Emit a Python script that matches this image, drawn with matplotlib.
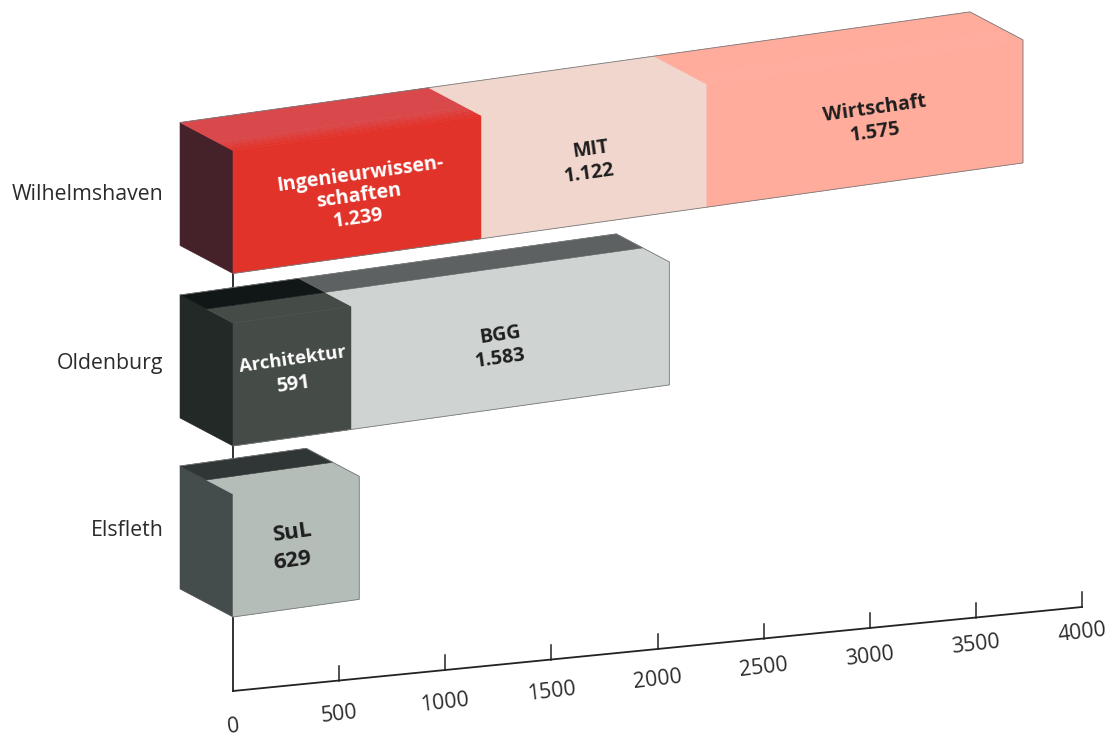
#!/usr/bin/python3
import numpy as np
from matplotlib import pyplot as plt
from matplotlib.patches import Polygon
import matplotlib.colors as colors

plt.rcParams['font.family'] = ['Open Sans', 'DejaVu Sans']

campus_names = ['Wilhelmshaven', 'Oldenburg', 'Elsfleth']
wilhelmshaven_values = [1239, 1122, 1575]
oldenburg_values = [591, 1583]
elsfleth_values = [629]
axis_ticks = [0, 500, 1000, 1500, 2000, 2500, 3000, 3500, 4000]

# oblique projection of the bars, in pixels
x0 = 233
bar_scale = 0.2007
bar_slope = 0.14
bar_height = 123
depth_x = -53
depth_y = -28


def project(value, height, depth, base):
    x = x0 + bar_scale*value + depth*depth_x
    y = base - bar_slope*bar_scale*value - height + depth*depth_y
    return (x, y)


def face(ax, points, color, z=3):
    ax.add_patch(Polygon(points, closed=True, facecolor=color, edgecolor=color, lw=0.4, zorder=z))


def draw_bar(ax, values, base, side, fronts, tops, top_bands):
    edges = np.concatenate(([0], np.cumsum(values)))
    h = bar_height
    face(ax, [project(0, 0, 0, base), project(0, h, 0, base), project(0, h, 1, base), project(0, 0, 1, base)], side)
    for i in range(len(values)):
        a, b = edges[i], edges[i+1]
        # top face: (front depth, back depth) bands
        for (d1, d2), col in zip(top_bands, tops[i]):
            face(ax, [project(a, h, d1, base), project(b, h, d1, base),
                      project(b, h, d2, base), project(a, h, d2, base)], col)
        face(ax, [project(a, 0, 0, base), project(b, 0, 0, base),
                  project(b, h, 0, base), project(a, h, 0, base)], fronts[i], z=3)
    # thin outline round the whole block
    end = edges[-1]
    outline = [project(0, h, 1, base), project(end, h, 1, base), project(end, h, 0, base),
               project(end, 0, 0, base), project(0, 0, 0, base)]
    ax.plot(*zip(*outline), color='#77797a', lw=0.6, zorder=5, solid_joinstyle='miter')


def label(ax, x, y, text, color, size=14.2):
    ax.text(x, y + 2, text, color=color, fontsize=size, fontweight='bold', rotation=8,
            ha='center', va='center', rotation_mode='anchor', zorder=6)


fig = plt.figure(figsize=(11.13, 7.38), dpi=100)
ax = fig.add_axes([0, 0, 1, 1])
ax.set_xlim(0, 1113)
ax.set_ylim(738, 0)
ax.axis('off')

# value axis
axis_scale = 0.21225
axis_rise = 0.021
axis_col = '#222222'
ticks = np.array(axis_ticks)
tick_x = x0 + axis_scale*ticks
tick_y = 691 - axis_rise*ticks
ax.plot([x0, x0], [691, 270], color=axis_col, lw=1.3, zorder=1)
ax.plot(tick_x, tick_y, color=axis_col, lw=1.3, zorder=1)
for t, tx, ty in zip(ticks, tick_x, tick_y):
    if t > 0:
        ax.plot([tx, tx], [ty, ty-15], color=axis_col, lw=1.1, zorder=1)
    ax.text(tx, ty + 35.5 - 9.5*t/4000, str(t), fontsize=15.3, color='#2b2b2b', rotation=6.5,
            ha='center', va='center', rotation_mode='anchor')

# soft fade on the red top face, from the front colour to the lighter back
n_fade = 5
fade_edges = np.append(np.linspace(0, 0.3, n_fade + 1), 1.0)
fade_bands = list(zip(fade_edges[:-1], fade_edges[1:]))
red_front = np.array(colors.to_rgb('#e2332a'))
red_top = np.array(colors.to_rgb('#d9484b'))
red_fade = [colors.to_hex(red_front + (red_top - red_front)*k) for k in np.linspace(0, 1, n_fade + 1)]

# bars, back row first
draw_bar(ax, wilhelmshaven_values, 273.5, '#45222a',
         ['#e2332a', '#f0d6cd', '#ffac9c'],
         [red_fade, ['#f0d6cd']*(n_fade + 1), ['#ffac9c']*(n_fade + 1)],
         fade_bands)
draw_bar(ax, oldenburg_values, 446, '#232927',
         ['#454b47', '#cfd3d1'],
         [['#454b47', '#111717'], ['#cfd3d1', '#5d6162']],
         [(0, 0.5), (0.5, 1)])
draw_bar(ax, elsfleth_values, 617, '#454d4c',
         ['#b4bdb8'],
         [['#b4bdb8', '#2f3635']],
         [(0, 0.5), (0.5, 1)])

# campus names
for name, y in zip(campus_names, [194, 364, 531]):
    ax.text(163.5, y, name, fontsize=15.3, color='#2b2b2b', ha='right', va='center')

# segment captions
label(ax, 360, 172, 'Ingenieurwissen-', 'white')
label(ax, 359, 194, 'schaften', 'white')
label(ax, 358, 217, '1.239', 'white')
label(ax, 591, 148, 'MIT', '#1e1e1e')
label(ax, 589, 172, '1.122', '#1e1e1e')
label(ax, 875, 107, 'Wirtschaft', '#1e1e1e')
label(ax, 875, 131, '1.575', '#1e1e1e')
label(ax, 293, 358, 'Architektur', 'white', size=13.3)
label(ax, 293, 383, '591', 'white')
label(ax, 500, 333, 'BGG', '#1e1e1e')
label(ax, 500, 357, '1.583', '#1e1e1e')
label(ax, 293, 531, 'SuL', '#1e1e1e', size=16)
label(ax, 292, 559, '629', '#1e1e1e', size=16)

plt.savefig('out.png', dpi=100)
